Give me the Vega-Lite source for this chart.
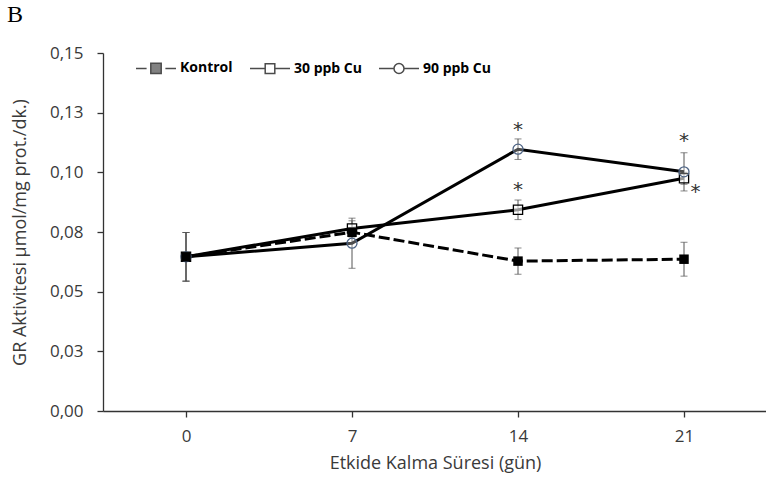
{
  "$schema": "https://vega.github.io/schema/vega-lite/v6.json",
  "width": 664,
  "height": 358,
  "autosize": "none",
  "padding": {"left": 103, "top": 53, "right": 0, "bottom": 79},
  "background": "white",
  "title": {"text": "B", "anchor": "start", "frame": "group", "font": "Liberation Serif", "fontSize": 24, "fontWeight": "normal", "color": "#000", "baseline": "alphabetic", "offset": -2, "dx": -96},
  "config": {
    "view": {"stroke": null},
    "axis": {"grid": false, "domainColor": "#333", "tickColor": "#333", "domainWidth": 1.3, "tickWidth": 1.3, "labelFont": "Open Sans", "labelFontSize": 17, "labelColor": "#3a3a3a", "titleFont": "Open Sans", "titleFontSize": 18, "titleFontWeight": "normal", "titleColor": "#3a3a3a"}
  },
  "datasets": {
    "main": [
      {"day": 0, "series": "Kontrol", "value": 0.0646, "err": 0.0102},
      {"day": 7, "series": "Kontrol", "value": 0.0749, "err": 0.002},
      {"day": 14, "series": "Kontrol", "value": 0.0628, "err": 0.0055},
      {"day": 21, "series": "Kontrol", "value": 0.0636, "err": 0.0071},
      {"day": 0, "series": "30 ppb Cu", "value": 0.0646, "err": 0.0102},
      {"day": 7, "series": "30 ppb Cu", "value": 0.0765, "err": 0.0032},
      {"day": 14, "series": "30 ppb Cu", "value": 0.0843, "err": 0.0041},
      {"day": 21, "series": "30 ppb Cu", "value": 0.0975, "err": 0.0025},
      {"day": 0, "series": "90 ppb Cu", "value": 0.0646, "err": 0.0102},
      {"day": 7, "series": "90 ppb Cu", "value": 0.0703, "err": 0.0105},
      {"day": 14, "series": "90 ppb Cu", "value": 0.1097, "err": 0.0043},
      {"day": 21, "series": "90 ppb Cu", "value": 0.1002, "err": 0.008}
    ],
    "stars": [
      {"day": 14, "value": 0.1198, "label": "*"},
      {"day": 14, "value": 0.0947, "label": "*"},
      {"day": 21, "value": 0.1153, "label": "*"},
      {"day": 21.48, "value": 0.0939, "label": "*"}
    ]
  },
  "layer": [
    {
      "data": {"name": "main"},
      "mark": {"type": "errorbar", "ticks": {"size": 7, "color": "#555"}, "rule": {"color": "#555"}, "thickness": 1},
      "encoding": {
        "x": {"field": "day", "type": "quantitative", "scale": {"domain": [-3.5, 24.5], "nice": false, "zero": false}, "axis": {"values": [0, 7, 14, 21], "title": "Etkide Kalma Süresi (gün)", "tickSize": 6, "labelPadding": 11, "titlePadding": 10}},
        "y": {"field": "value", "type": "quantitative", "scale": {"domain": [0, 0.15], "nice": false}, "axis": {"values": [0, 0.025, 0.05, 0.075, 0.1, 0.125, 0.15], "labelExpr": "replace(format(datum.value + 0.000001, '.2f'), '.', ',')", "title": "GR Aktivitesi µmol/mg prot./dk.)", "tickSize": 6, "labelPadding": 14, "titlePadding": 20}},
        "yError": {"field": "err"}
      }
    },
    {
      "data": {"name": "main"},
      "transform": [{"filter": "datum.series !== 'Kontrol'"}],
      "mark": {"type": "line", "color": "#000", "strokeWidth": 3},
      "encoding": {
        "x": {"field": "day", "type": "quantitative"},
        "y": {"field": "value", "type": "quantitative"},
        "detail": {"field": "series"}
      }
    },
    {
      "data": {"name": "main"},
      "transform": [{"filter": "datum.series === 'Kontrol'"}],
      "mark": {"type": "line", "color": "#000", "strokeWidth": 3, "strokeDash": [11, 4]},
      "encoding": {
        "x": {"field": "day", "type": "quantitative"},
        "y": {"field": "value", "type": "quantitative"}
      }
    },
    {
      "data": {"name": "main"},
      "transform": [{"filter": "datum.series === '30 ppb Cu'"}],
      "mark": {"type": "point", "shape": "square", "filled": false, "fill": "white", "fillOpacity": 0.6, "stroke": "#000", "strokeWidth": 1.3, "size": 85, "opacity": 1},
      "encoding": {
        "x": {"field": "day", "type": "quantitative"},
        "y": {"field": "value", "type": "quantitative"}
      }
    },
    {
      "data": {"name": "main"},
      "transform": [{"filter": "datum.series === '90 ppb Cu'"}],
      "mark": {"type": "point", "shape": "circle", "filled": false, "fill": "white", "fillOpacity": 0.3, "stroke": "#4d6384", "strokeWidth": 1.3, "size": 100, "opacity": 1},
      "encoding": {
        "x": {"field": "day", "type": "quantitative"},
        "y": {"field": "value", "type": "quantitative"}
      }
    },
    {
      "data": {"name": "main"},
      "transform": [{"filter": "datum.series === 'Kontrol'"}],
      "mark": {"type": "point", "shape": "square", "filled": true, "color": "#000", "size": 90, "opacity": 1},
      "encoding": {
        "x": {"field": "day", "type": "quantitative"},
        "y": {"field": "value", "type": "quantitative"}
      }
    },
    {
      "data": {"name": "main"},
      "transform": [{"filter": "false"}],
      "mark": {"type": "point", "filled": true, "stroke": "#000", "strokeWidth": 2.5},
      "encoding": {
        "x": {"field": "day", "type": "quantitative"},
        "y": {"field": "value", "type": "quantitative"},
        "shape": {"field": "series", "type": "nominal", "scale": {"domain": ["Kontrol", "30 ppb Cu", "90 ppb Cu"], "range": [
          "M-1,0H-0.47M0.47,0H1M-0.26,-0.26H0.26V0.26H-0.26Z",
          "M-1,0H-0.24M0.24,0H1M-0.24,-0.24H0.24V0.24H-0.24Z",
          "M-1,0H-0.25M0.25,0H1M-0.25,0A0.25,0.25,0,1,1,0.25,0A0.25,0.25,0,1,1,-0.25,0Z"
        ]}, "legend": {"title": null, "orient": "none", "direction": "horizontal", "legendX": 32, "legendY": -6, "symbolSize": 1600, "labelFont": "Open Sans", "labelFontSize": 14, "labelFontWeight": "bold", "labelColor": "#000", "labelOffset": 3, "columnPadding": 14}},
        "fill": {"field": "series", "type": "nominal", "scale": {"domain": ["Kontrol", "30 ppb Cu", "90 ppb Cu"], "range": ["#000", "#fff", "#fff"]}}
      }
    },
    {
      "data": {"name": "stars"},
      "mark": {"type": "text", "font": "DejaVu Sans", "fontSize": 20, "color": "#333", "baseline": "middle", "dy": 5},
      "encoding": {
        "x": {"field": "day", "type": "quantitative"},
        "y": {"field": "value", "type": "quantitative"},
        "text": {"field": "label"}
      }
    }
  ]
}
